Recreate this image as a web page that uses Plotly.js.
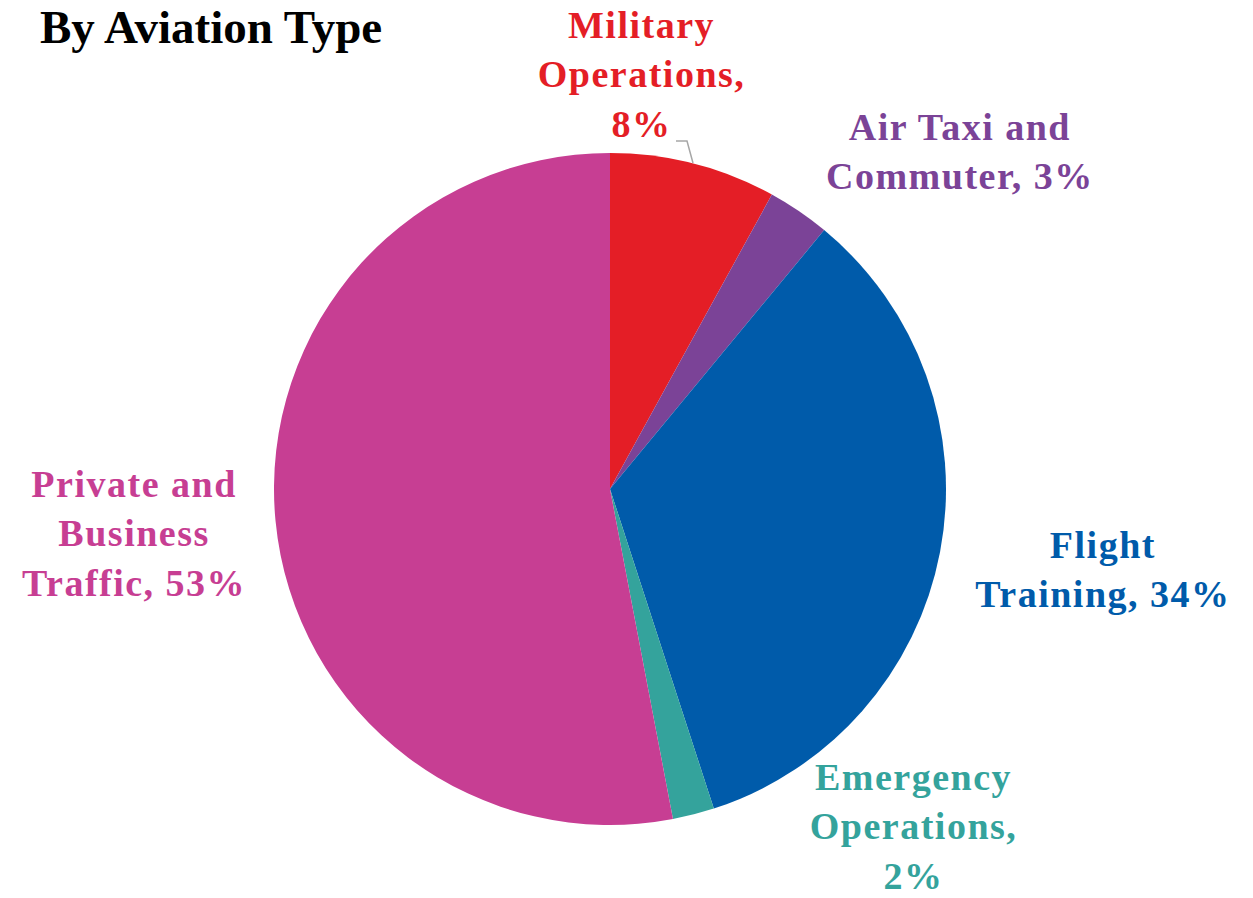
<!DOCTYPE html>
<html>
<head>
<meta charset="utf-8">
<script src="https://cdn.plot.ly/plotly-3.0.1.min.js"></script>
<style>
html,body{margin:0;padding:0;background:#fff;}
#chart{width:1253px;height:898px;}
.annotation:not([data-index="5"]) .annotation-text{letter-spacing:1.5px;}
</style>
</head>
<body>
<div id="chart"></div>
<script>
const titleText = "By Aviation Type";
const categories = ["Military Operations", "Air Taxi and Commuter", "Flight Training", "Emergency Operations", "Private and Business Traffic"];
const values = [8, 3, 34, 2, 53];
const labelLines = ["Military<br>Operations,<br>", "Air Taxi and<br>Commuter, ", "Flight<br>Training, ", "Emergency<br>Operations,<br>", "Private and<br>Business<br>Traffic, "];
const colors = ["#E41E26", "#7B4397", "#005BAA", "#34A39C", "#C73E93"];

const W = 1253, H = 898;
const cx = 610, cy = 489, r = 336;
// label centres in pixels (layout only)
const labelPos = [[641, 75], [960, 151], [1103, 569], [913, 826], [134, 533]];

const px = x => x / W;
const py = y => 1 - y / H;

const annotations = categories.map((c, i) => ({
  xref: "paper", yref: "paper",
  x: px(labelPos[i][0]), y: py(labelPos[i][1]),
  xanchor: "center", yanchor: "middle",
  text: labelLines[i] + values[i] + "%",
  showarrow: false, align: "center", borderpad: 0,
  font: {family: "Liberation Serif, Times New Roman, serif", size: 38, color: colors[i], weight: "bold"}
}));
annotations.push({
  xref: "paper", yref: "paper", x: px(38), y: py(27),
  xanchor: "left", yanchor: "middle", showarrow: false,
  text: titleText,
  font: {family: "Liberation Serif, Times New Roman, serif", size: 47, color: "#000", weight: "bold"}
});

const data = [{
  type: "pie",
  labels: categories,
  values: values,
  sort: false,
  direction: "clockwise",
  rotation: 0,
  textinfo: "none",
  hoverinfo: "label+percent",
  marker: {colors: colors, line: {color: "#ffffff", width: 0}},
  domain: {x: [px(cx - r), px(cx + r)], y: [py(cy + r), py(cy - r)]},
  showlegend: false
}];

const layout = {
  width: W, height: H,
  margin: {l: 0, r: 0, t: 0, b: 0},
  paper_bgcolor: "#fff",
  showlegend: false,
  annotations: annotations,
  shapes: [
    {type: "path", xref: "paper", yref: "paper",
     path: `M ${px(676)} ${py(141)} L ${px(687)} ${py(141)} L ${px(693)} ${py(163)}`,
     line: {color: "#A6A6A6", width: 1.5}}
  ]
};

Plotly.newPlot("chart", data, layout, {displayModeBar: false, staticPlot: true});
</script>
</body>
</html>
